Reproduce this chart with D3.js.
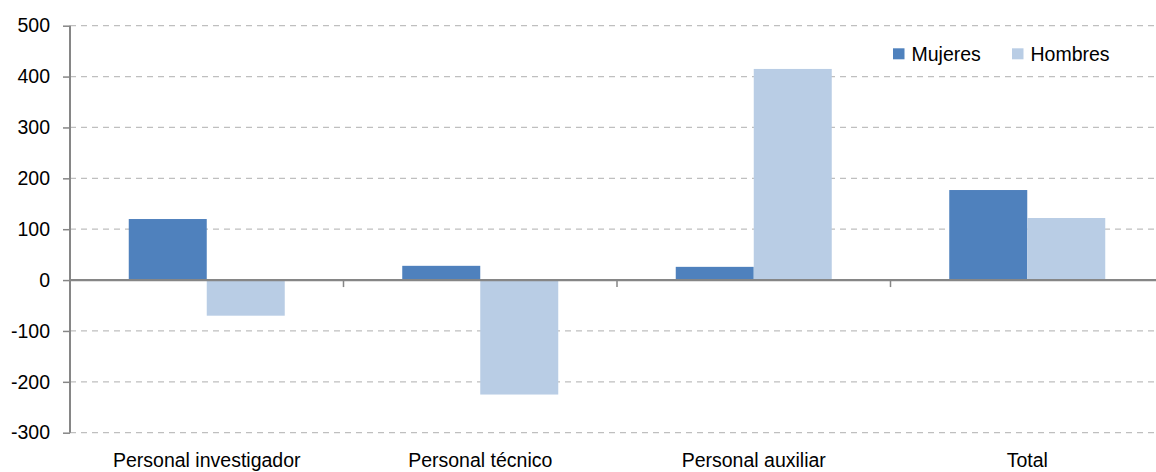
<!DOCTYPE html>
<html><head><meta charset="utf-8">
<script src="https://cdn.jsdelivr.net/npm/d3@7"></script>
<style>body{margin:0;background:#fff;}svg{display:block;font-family:"Liberation Sans",Arial,sans-serif;}</style>
</head><body><svg id="c" width="1156" height="472"></svg>
<script>
const categories = ["Personal investigador","Personal técnico","Personal auxiliar","Total"];
const seriesNames = ["Mujeres","Hombres"];
const mujeres = [120, 28, 26, 177];
const hombres = [-70, -225, 415, 122];
const yTicks = [-300,-200,-100,0,100,200,300,400,500];
const colors = ["#4F81BD","#B9CDE5"];

(function(){
const svg = d3.select("#c");
const mLeft = 70, mRight = 1164, mTop = 25.7, mBottom = 432.7;
const fs = 19.5;
const y = d3.scaleLinear().domain([-300,500]).range([mBottom, mTop]);
const x = d3.scaleBand().domain(categories).range([mLeft, mRight]).padding(0);
const outerPad = (x.bandwidth() - 156) / 2;
const xi = d3.scaleBand().domain(seriesNames).range([outerPad, x.bandwidth() - outerPad]).padding(0);

// gridlines
svg.append("g").selectAll("line").data(yTicks.filter(d=>d!==0)).join("line")
  .attr("x1", mLeft).attr("x2", 1156).attr("y1", d=>y(d)).attr("y2", d=>y(d))
  .attr("stroke", "#BFBFBF").attr("stroke-width", 1.3).attr("stroke-dasharray", "6,5");

// bars
const data = [];
categories.forEach((c,i)=>{
  data.push({c, s:seriesNames[0], v:mujeres[i], k:0});
  data.push({c, s:seriesNames[1], v:hombres[i], k:1});
});
svg.append("g").selectAll("rect").data(data).join("rect")
  .attr("x", d=>x(d.c)+xi(d.s))
  .attr("width", xi.bandwidth())
  .attr("y", d=>Math.min(y(d.v), y(0)))
  .attr("height", d=>Math.abs(y(d.v)-y(0)))
  .attr("fill", d=>colors[d.k]);

// y axis
const yAxis = d3.axisLeft(y).tickValues(yTicks).tickSize(7).tickPadding(13).tickFormat(d => String(d));
const ga = svg.append("g").attr("transform", `translate(${mLeft},0)`).call(yAxis);
ga.select(".domain").attr("stroke","#868686").attr("stroke-width",2).attr("d", `M0,${mTop}V${mBottom}`);
ga.selectAll(".tick line").attr("stroke","#868686").attr("stroke-width",1.5);
ga.selectAll(".tick text").attr("font-size", fs).attr("fill","#000").attr("font-family","Liberation Sans, Arial, sans-serif");

// x axis at zero
svg.append("line").attr("x1", mLeft).attr("x2", 1156).attr("y1", y(0)).attr("y2", y(0))
  .attr("stroke","#868686").attr("stroke-width",2.2);
svg.append("g").selectAll("line").data(categories.slice(1)).join("line")
  .attr("x1", d=>x(d)).attr("x2", d=>x(d)).attr("y1", y(0)).attr("y2", y(0)+7)
  .attr("stroke","#868686").attr("stroke-width",1.5);

// category labels
svg.append("g").selectAll("text").data(categories).join("text")
  .attr("x", d=>x(d)+x.bandwidth()/2).attr("y", 467)
  .attr("text-anchor","middle").attr("font-size",fs).attr("fill","#000").text(d=>d);

// legend
const legendX = [893, 1012];
const lg = svg.append("g");
seriesNames.forEach((n,i)=>{
  lg.append("rect").attr("x", legendX[i]).attr("y", 48.3).attr("width", 11.5).attr("height", 11).attr("fill", colors[i]);
  lg.append("text").attr("x", legendX[i]+18.5).attr("y", 61).attr("font-size",fs).attr("fill","#000").text(n);
});
})();
</script></body></html>
